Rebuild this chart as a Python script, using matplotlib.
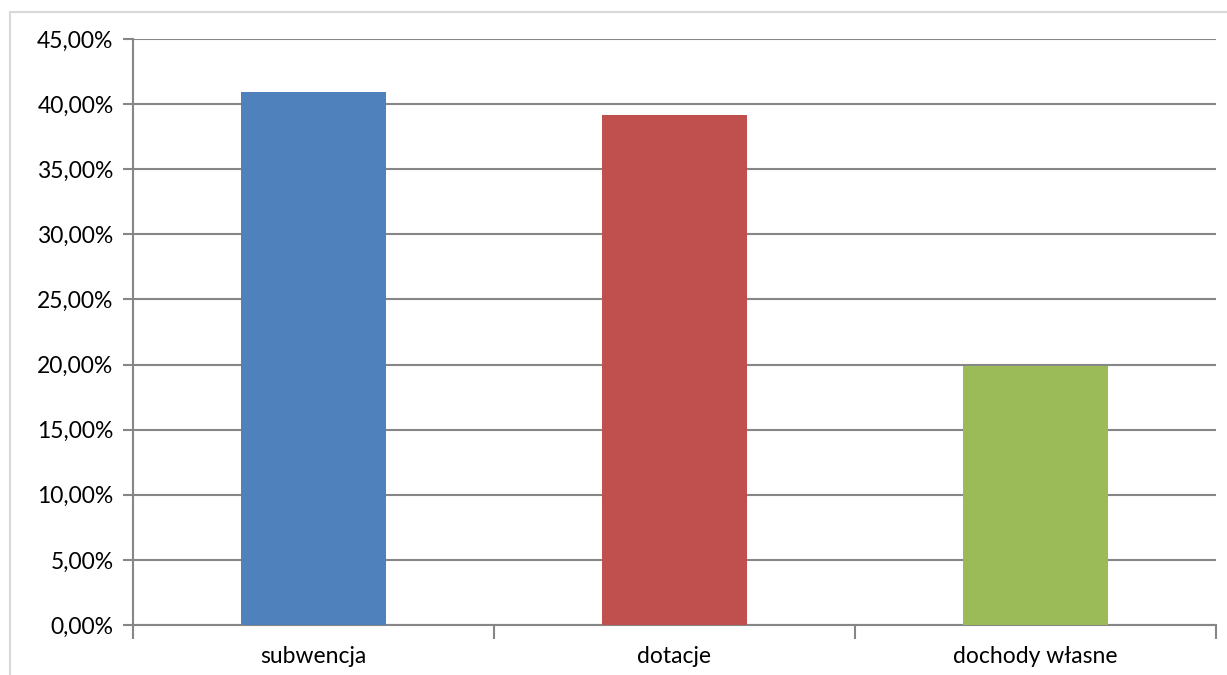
import matplotlib.pyplot as plt
import matplotlib.patches as mpatches
from matplotlib.ticker import FuncFormatter, MultipleLocator, FixedLocator

categories = ['subwencja', 'dotacje', 'dochody własne']
values = [40.94, 39.17, 19.91]
colors = ['#4f81bd', '#c0504d', '#9bbb59']

plt.rcParams['font.family'] = ['Lato', 'DejaVu Sans']

fig = plt.figure(figsize=(12.27, 6.75), dpi=100)
ax = fig.add_axes([133/1227, 1 - 625/675, (1216-133)/1227, (625-39)/675])

# outer chart frame
fig.patches.append(mpatches.Rectangle((10/1227, -0.01), 1.1, 1 - 12/675 + 0.01,
                                      transform=fig.transFigure, fill=False,
                                      edgecolor='#d9d9d9', linewidth=1.5))

x = range(len(categories))
ax.bar(x, values, width=0.4, color=colors, zorder=3)

ax.set_xlim(-0.5, 2.5)
ax.set_ylim(0, 45)
ax.yaxis.set_major_locator(MultipleLocator(5))
ax.yaxis.set_major_formatter(FuncFormatter(lambda v, p: f'{v:.2f}%'.replace('.', ',')))
ax.grid(axis='y', color='#868686', linewidth=1.5, zorder=0)

ax.set_xticks(list(x))
ax.set_xticklabels(categories)
ax.tick_params(axis='x', length=0, labelsize=16.5, pad=15)
ax.xaxis.set_minor_locator(FixedLocator([-0.5, 0.5, 1.5, 2.5]))
ax.tick_params(axis='x', which='minor', length=10, width=1.5, color='#868686')
ax.tick_params(axis='y', length=7, width=1.5, color='#868686', labelsize=16.5, pad=7)

for s in ['top', 'right']:
    ax.spines[s].set_visible(False)
ax.spines['left'].set_color('#868686')
ax.spines['left'].set_linewidth(1.5)
ax.spines['bottom'].set_color('#868686')
ax.spines['bottom'].set_linewidth(1.5)

fig.savefig('out.png', dpi=100)
